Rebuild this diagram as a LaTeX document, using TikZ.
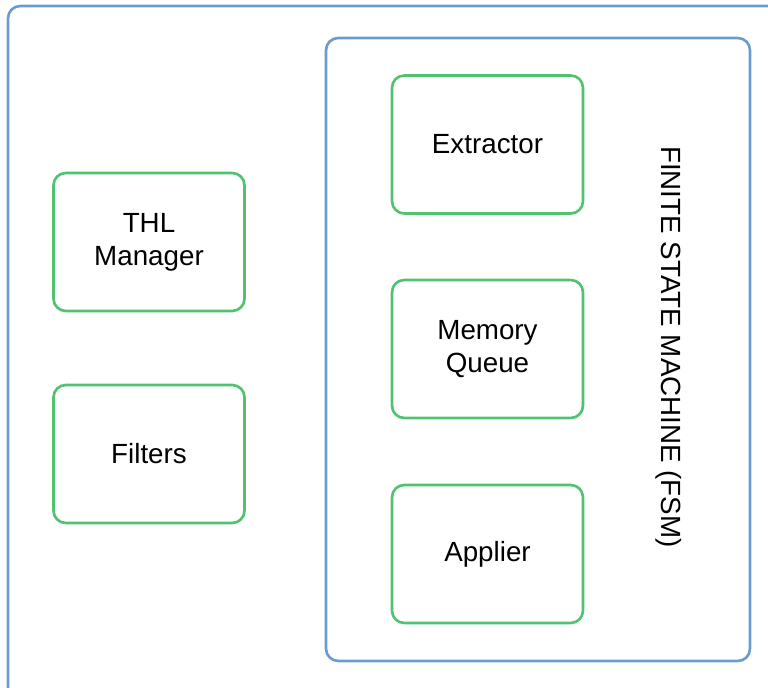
\documentclass[tikz,border=0pt]{standalone}
\usepackage{fontspec}
\setmainfont{Liberation Sans}
\definecolor{frameblue}{RGB}{108,155,210}
\definecolor{boxgreen}{RGB}{80,194,112}
\begin{document}
\begin{tikzpicture}[x=0.02cm,y=-0.02cm,
  frame/.style={draw=frameblue,line width=1.5pt,rounded corners=7pt},
  comp/.style={draw=boxgreen,line width=1.5pt,rounded corners=7pt,
    minimum width=191*0.02cm,minimum height=138*0.02cm,inner sep=0pt,
    align=center,font=\fontsize{15.8pt}{18.7pt}\selectfont},
  label/.style={font=\fontsize{15.8pt}{18.7pt}\selectfont,inner sep=0pt}]
\useasboundingbox (0,0) rectangle (768,688);
\clip (0,0) rectangle (768,688);
% outer container (runs past the right and bottom edges)
\draw[frame] (8,6) rectangle (790,700);
% finite state machine container
\node[frame,minimum width=424*0.02cm,minimum height=623*0.02cm,inner sep=0pt] (fsm) at (538,349.5) {};
\node[label,rotate=-90] (fsmlabel) at (669,347) {FINITE STATE MACHINE (FSM)};
% components
\node[comp] (thl) at (149,242) {THL\\Manager};
\node[comp] (filters) at (149,454) {Filters};
\node[comp] (extractor) at (487.5,144.5) {Extractor};
\node[comp] (queue) at (487.5,349) {Memory\\Queue};
\node[comp] (applier) at (487.5,554) {Applier};
\end{tikzpicture}
\end{document}
